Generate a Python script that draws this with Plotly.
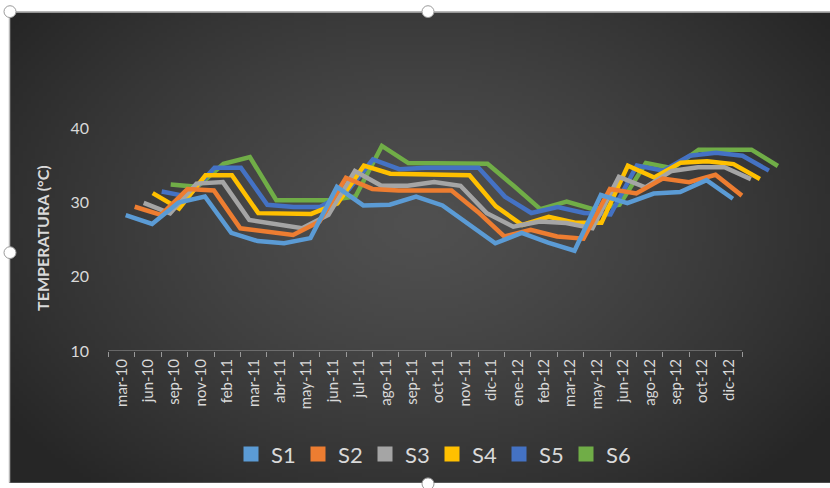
import base64, struct, zlib
import numpy as np
import plotly.graph_objects as go

# ---------------- data ----------------
categories = ["mar-10", "jun-10", "sep-10", "nov-10", "feb-11", "mar-11", "abr-11", "may-11",
              "jun-11", "jul-11", "ago-11", "sep-11", "oct-11", "nov-11", "dic-11", "ene-12",
              "feb-12", "mar-12", "may-12", "jun-12", "ago-12", "sep-12", "oct-12", "dic-12"]
S1 = [28.3, 27.1, 30.0, 30.8, 25.9, 24.8, 24.5, 25.2, 32.1, 29.6, 29.7, 30.8,
      29.6, 27.0, 24.5, 25.9, 24.6, 23.5, 31.0, 29.9, 31.2, 31.4, 33.0, 30.5]
S2 = [28.6, 27.5, 31.0, 30.8, 25.7, 25.3, 24.8, 26.6, 32.5, 31.0, 30.8, 30.8,
      30.8, 27.9, 24.6, 25.5, 24.6, 24.3, 31.0, 30.4, 32.4, 31.9, 32.9, 30.1]
S3 = [28.3, 26.9, 30.9, 31.1, 26.0, 25.4, 24.9, 26.7, 32.6, 30.6, 30.6, 31.1,
      30.6, 26.9, 25.1, 25.8, 25.6, 24.9, 31.8, 30.4, 32.6, 33.1, 33.1, 31.5]
S4 = [28.8, 26.7, 31.2, 31.2, 26.1, 26.0, 26.0, 27.4, 32.5, 31.4, 31.3, 31.2,
      31.2, 27.0, 24.5, 25.6, 24.8, 24.8, 32.5, 30.9, 32.9, 33.1, 32.7, 30.7]
S5 = [28.2, 27.5, 31.4, 31.4, 26.4, 26.1, 26.1, 28.1, 32.5, 31.2, 31.4, 31.4,
      31.4, 27.5, 25.3, 26.1, 25.3, 25.1, 31.7, 31.0, 33.0, 33.4, 33.0, 31.0]
S6 = [28.3, 28.0, 31.1, 32.0, 26.2, 26.2, 26.2, 26.7, 33.5, 31.2, 31.2, 31.1,
      31.1, 28.1, 25.0, 26.0, 25.0, 25.6, 31.2, 30.5, 33.0, 33.0, 33.0, 30.8]
series_names = ["S1", "S2", "S3", "S4", "S5", "S6"]
series_values = [S1, S2, S3, S4, S5, S6]
y_ticks = [10, 20, 30, 40]

# ---------------- style / geometry ----------------
colors = ["#5B9BD5", "#ED7D31", "#A5A5A5", "#FFC000", "#4472C4", "#70AD47"]
W, H = 830, 488
PLOT_L, PLOT_R, PLOT_T, PLOT_B = 100, 790, 110, 355
PX_PER_CAT = 26.4          # horizontal pixels per category
CAT0_PX = 121.7            # pixel centre of first category
PX_PER_DEG = 7.55
Y_MIN = 10
# pseudo-3D depth shift per series (Excel 3-D line look)
BASE_DX = 4 / PX_PER_CAT
DEPTH_DX = 9 / PX_PER_CAT
DEPTH_DY = 6.2 / PX_PER_DEG

x_range = [(PLOT_L - CAT0_PX) / PX_PER_CAT, (PLOT_R - CAT0_PX) / PX_PER_CAT]
y_range = [Y_MIN, Y_MIN + (PLOT_B - PLOT_T) / PX_PER_DEG]

def px_x(p):
    return (p - PLOT_L) / (PLOT_R - PLOT_L)

def px_y(p):
    return (PLOT_B - p) / (PLOT_B - PLOT_T)

# ---------------- gradient background image ----------------
def png_data_uri(arr):
    h, w, _ = arr.shape
    raw = b"".join(b"\x00" + arr[r].astype(np.uint8).tobytes() for r in range(h))
    def chunk(tag, data):
        c = struct.pack(">I", len(data)) + tag + data
        return c + struct.pack(">I", zlib.crc32(tag + data) & 0xffffffff)
    png = b"\x89PNG\r\n\x1a\n" + chunk(b"IHDR", struct.pack(">IIBBBBB", w, h, 8, 2, 0, 0, 0)) \
        + chunk(b"IDAT", zlib.compress(raw, 9)) + chunk(b"IEND", b"")
    return "data:image/png;base64," + base64.b64encode(png).decode()

gw, gh = 206, 120
gx, gy = np.meshgrid(np.linspace(0, 1, gw), np.linspace(0, 1, gh))
t = np.sqrt(((gx - 0.5) / 0.62) ** 2 + ((gy - 0.45) / 0.75) ** 2)
t = np.clip(t, 0, 1)
c_in, c_out = 80.0, 38.0
val = c_in + (c_out - c_in) * t ** 1.3
grad = np.stack([val, val, val], axis=-1)
bg_uri = png_data_uri(grad)

# ---------------- figure ----------------
fig = go.Figure()
n = len(categories)
idx = np.arange(n)
for k in reversed(range(len(series_names))):
    fig.add_trace(go.Scatter(
        x=idx + BASE_DX + k * DEPTH_DX,
        y=np.array(series_values[k]) + k * DEPTH_DY,
        mode="lines", name=series_names[k], showlegend=False,
        line=dict(color=colors[k], width=4.5), hoverinfo="skip"))
for k in range(len(series_names)):
    fig.add_trace(go.Scatter(
        x=[None], y=[None], mode="markers", name=series_names[k],
        marker=dict(symbol="square", size=15, color=colors[k])))

shapes = [
    # category axis line
    dict(type="line", xref="x", yref="y", x0=-0.5, x1=n - 0.5, y0=Y_MIN, y1=Y_MIN,
         line=dict(color="#9a9a9a", width=1.2)),
    # chart border
    dict(type="line", xref="paper", yref="paper", x0=px_x(9), x1=px_x(831), y0=px_y(10.5), y1=px_y(10.5),
         line=dict(color="#b8b8b8", width=1.5)),
    dict(type="line", xref="paper", yref="paper", x0=px_x(9.5), x1=px_x(9.5), y0=px_y(10), y1=px_y(489),
         line=dict(color="#b8b8b8", width=1.5)),
]
for hx, hy in [(10, 10), (428, 10), (10, 255), (428, 490)]:
    shapes.append(dict(type="circle", xref="paper", yref="paper",
                       x0=px_x(hx - 6), x1=px_x(hx + 6), y0=px_y(hy - 6), y1=px_y(hy + 6),
                       fillcolor="white", line=dict(color="#9a9a9a", width=1)))

fig.update_layout(
    width=W, height=H,
    margin=dict(l=PLOT_L, r=W - PLOT_R, t=PLOT_T, b=H - PLOT_B, pad=0),
    paper_bgcolor="white", plot_bgcolor="rgba(0,0,0,0)",
    font=dict(family="Lato, 'Open Sans', sans-serif", color="#d9d9d9"),
    images=[dict(source=bg_uri, xref="paper", yref="paper",
                 x=px_x(9), y=px_y(10), sizex=px_x(831) - px_x(9), sizey=px_y(10) - px_y(489),
                 xanchor="left", yanchor="top", sizing="stretch", layer="below")],
    shapes=shapes,
    xaxis=dict(range=x_range, showgrid=False, zeroline=False, showline=False,
               tickmode="array", tickvals=list(idx), ticktext=categories, tickangle=-90,
               ticks="", ticklabelstandoff=4, tickfont=dict(size=15, color="#d9d9d9"),
               minor=dict(tickmode="array", tickvals=[i - 0.5 for i in range(n + 1)],
                          ticks="outside", ticklen=5, tickcolor="#9a9a9a", tickwidth=1,
                          showgrid=False)),
    yaxis=dict(range=y_range, showgrid=False, zeroline=False, showline=False,
               tickmode="array", tickvals=y_ticks, ticks="", ticklabelstandoff=10,
               tickfont=dict(size=16, color="#d9d9d9")),
    annotations=[dict(text="<b>TEMPERATURA (°C)</b>", textangle=-90, showarrow=False,
                      xref="paper", yref="paper", x=px_x(43), y=px_y(240),
                      xanchor="center", yanchor="middle",
                      font=dict(size=16, color="#d9d9d9"))],
    legend=dict(orientation="h", x=px_x(432), xanchor="center", y=px_y(460), yanchor="middle",
                font=dict(size=22, color="#d9d9d9"), bgcolor="rgba(0,0,0,0)",
                itemwidth=30, entrywidth=22, traceorder="normal"),
    hovermode=False,
)

fig.write_html("out.html")
